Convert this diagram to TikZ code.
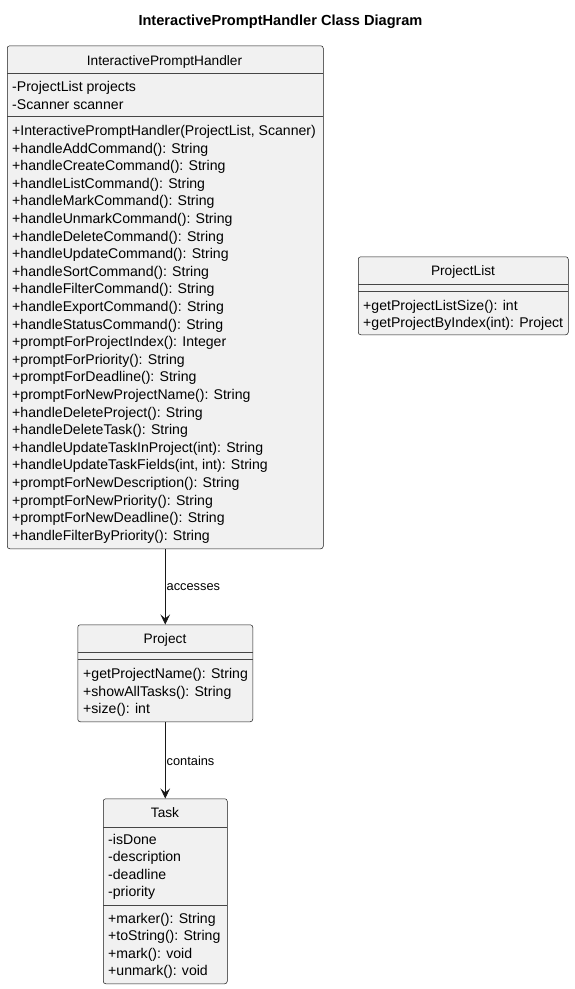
\documentclass[tikz,border=0pt]{standalone}
\usepackage{fontspec}
\setmainfont{Liberation Sans}
\usetikzlibrary{arrows.meta}
\definecolor{boxfill}{HTML}{F1F1F1}
\definecolor{boxline}{HTML}{181818}
\tikzset{
  classbox/.style={draw=boxline, fill=boxfill, line width=0.5pt, rounded corners=2.5pt, anchor=north west, inner sep=0pt},
  sepline/.style={draw=boxline!80, line width=0.5pt},
  member/.style={anchor=base west, inner sep=0pt, font=\fontsize{14.1}{16}\selectfont},
  ctitle/.style={anchor=base, inner sep=0pt, font=\fontsize{13.7}{15}\selectfont},
  rel/.style={draw=boxline, line width=0.7pt, -{Stealth[length=10pt,width=9.5pt,inset=4pt]}},
  rellabel/.style={anchor=base west, inner sep=0pt, font=\fontsize{12.8}{14}\selectfont},
}
\begin{document}
\begin{tikzpicture}[x=1pt,y=-1pt]
\useasboundingbox (0,0) rectangle (574,989);
\fill[white] (0,0) rectangle (574,989);
\node[anchor=base, inner sep=0pt, font=\bfseries\fontsize{14.6}{16}\selectfont] (title) at (280.5,25) {InteractivePromptHandler Class Diagram};

% InteractivePromptHandler
\node[classbox, minimum width=316pt, minimum height=503pt] (iph) at (7,45.5) {};
\draw[sepline] (7,73) -- (323,73);
\draw[sepline] (7,116.5) -- (323,116.5);
\node[ctitle] (iphname) at (164.5,65) {InteractivePromptHandler};
\node[member] (a1) at (12,91.5) {-ProjectList projects};
\node[member] (a2) at (12,109) {-Scanner scanner};
\foreach \t [count=\i from 0] in {
 {+InteractivePromptHandler(ProjectList, Scanner)},
 {+handleAddCommand(): String},
 {+handleCreateCommand(): String},
 {+handleListCommand(): String},
 {+handleMarkCommand(): String},
 {+handleUnmarkCommand(): String},
 {+handleDeleteCommand(): String},
 {+handleUpdateCommand(): String},
 {+handleSortCommand(): String},
 {+handleFilterCommand(): String},
 {+handleExportCommand(): String},
 {+handleStatusCommand(): String},
 {+promptForProjectIndex(): Integer},
 {+promptForPriority(): String},
 {+promptForDeadline(): String},
 {+promptForNewProjectName(): String},
 {+handleDeleteProject(): String},
 {+handleDeleteTask(): String},
 {+handleUpdateTaskInProject(int): String},
 {+handleUpdateTaskFields(int, int): String},
 {+promptForNewDescription(): String},
 {+promptForNewPriority(): String},
 {+promptForNewDeadline(): String},
 {+handleFilterByPriority(): String}} {
  \node[member] (m\i) at (12, 135.5+\i*17.6) {\t};
}

% ProjectList
\node[classbox, minimum width=210pt, minimum height=78pt] (plist) at (358,256.5) {};
\draw[sepline] (358,284) -- (568,284);
\draw[sepline] (358,291.5) -- (568,291.5);
\node[ctitle] (plname) at (463,275.5) {ProjectList};
\node[member] (pl1) at (363,310) {+getProjectListSize(): int};
\node[member] (pl2) at (363,327.5) {+getProjectByIndex(int): Project};

% Project
\node[classbox, minimum width=175pt, minimum height=97pt] (proj) at (77.5,624.5) {};
\draw[sepline] (77.5,652.5) -- (252.5,652.5);
\draw[sepline] (77.5,659.5) -- (252.5,659.5);
\node[ctitle] (pname) at (165,643.5) {Project};
\node[member] (p1) at (83,678.5) {+getProjectName(): String};
\node[member] (p2) at (83,696) {+showAllTasks(): String};
\node[member] (p3) at (83,713.5) {+size(): int};

% Task
\node[classbox, minimum width=124pt, minimum height=185pt] (task) at (103,798.5) {};
\draw[sepline] (103,827) -- (227,827);
\draw[sepline] (103,905) -- (227,905);
\node[ctitle] (tname) at (165,817.5) {Task};
\node[member] (t1) at (108,844) {-isDone};
\node[member] (t2) at (108,861.5) {-description};
\node[member] (t3) at (108,879) {-deadline};
\node[member] (t4) at (108,896.5) {-priority};
\node[member] (t5) at (108,923) {+marker(): String};
\node[member] (t6) at (108,940.5) {+toString(): String};
\node[member] (t7) at (108,958) {+mark(): void};
\node[member] (t8) at (108,975.5) {+unmark(): void};

% relations
\draw[rel] (iph.south) -- (proj.north);
\node[rellabel] (acc) at (166.5,590.5) {accesses};
\draw[rel] (proj.south) -- (task.north);
\node[rellabel] (cont) at (166.5,765) {contains};
\end{tikzpicture}
\end{document}
